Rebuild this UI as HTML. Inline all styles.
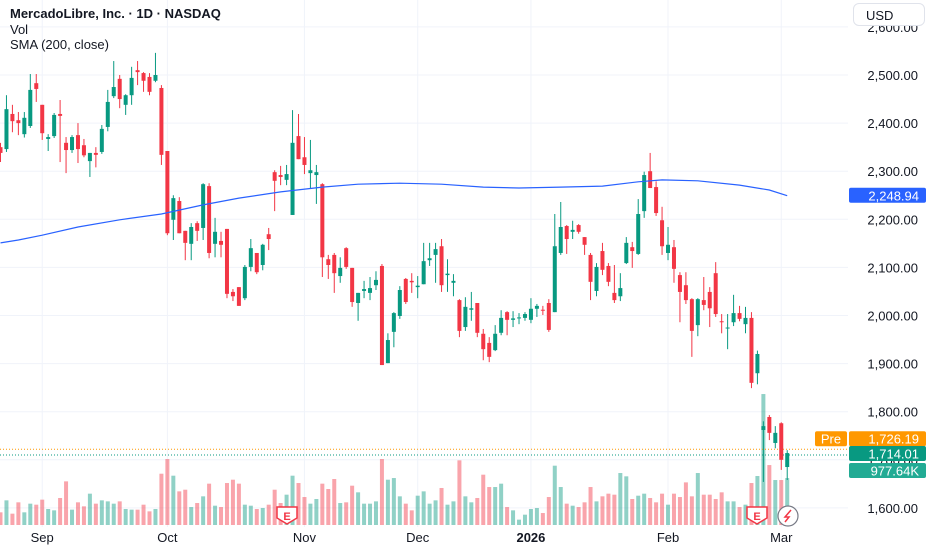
<!DOCTYPE html>
<html><head><meta charset="utf-8">
<style>
html,body{margin:0;padding:0;background:#fff;width:932px;height:550px;overflow:hidden;font-family:"Liberation Sans",sans-serif;}
#wrap{position:relative;width:932px;height:550px;}
svg{position:absolute;left:0;top:0;}
.leg{position:absolute;left:10px;font-size:13px;color:#131722;}
#usd{position:absolute;left:853px;top:3px;width:72px;height:23px;border:1px solid #e0e3eb;border-radius:6px;background:#fff;font-size:13px;color:#131722;line-height:23px;text-indent:12px;box-sizing:border-box;}
</style></head><body>
<div id="wrap">
<svg id="chart" width="932" height="550"></svg>
<div class="leg" style="top:6px;font-weight:bold;">MercadoLibre, Inc. · 1D · NASDAQ</div>
<div class="leg" style="top:22px;">Vol</div>
<div class="leg" style="top:37px;">SMA (200, close)</div>
<div id="usd">USD</div>
</div>
<script>
const opens=[2350,2346,2419,2406,2377,2394,2483,2438,2367,2373,2419,2359,2344,2375,2354,2321,2338,2340,2392,2456,2492,2438,2458,2510,2504,2496,2488,2473,2342,2199,2238,2176,2149,2192,2182,2269,2149,2155,2180,2049,2059,2036,2101,2130,2105,2169,2298,2292,2282,2209,2373,2329,2296,2292,2273,2117,2126,2082,2140,2099,2026,2051,2047,2063,2103,1901,1966,1999,2076,2072,2059,2065,2115,2126,2144,2084,2068,2032,1976,2012,2026,1962,1943,1928,1964,2007,1991,1994,1995,1991,2014,2012,2026,2007,2130,2186,2174,2188,2163,2126,2051,2134,2103,2047,2040,2109,2142,2128,2217,2300,2267,2198,2130,2142,2084,2063,2034,1980,2032,2049,2088,1988,1973,1986,2005,1982,1995,1880,1762,1789,1735,1776,1685];
const closes=[2338,2429,2404,2400,2411,2469,2471,2379,2371,2417,2415,2344,2371,2346,2333,2338,2334,2388,2444,2475,2450,2458,2494,2506,2488,2465,2500,2334,2171,2244,2171,2151,2184,2176,2273,2130,2174,2147,2045,2040,2020,2101,2140,2090,2147,2159,2280,2288,2294,2359,2325,2313,2302,2298,2121,2105,2088,2099,2101,2028,2047,2055,2057,2074,1897,1949,2005,2053,2028,2069,2062,2113,2119,2138,2063,2087,2072,1968,2018,2015,1964,1930,1914,1962,1995,1991,1994,1996,2003,2014,2020,2010,1970,2144,2184,2159,2178,2174,2147,2070,2101,2095,2070,2032,2057,2151,2134,2211,2292,2265,2213,2144,2147,2097,2049,2032,1968,2034,2022,2015,2003,1986,1975,2005,1993,1995,1860,1920,1770,1756,1756,1700,1714];
const highs=[2359,2458,2438,2423,2423,2502,2502,2438,2377,2421,2448,2371,2375,2400,2367,2338,2350,2396,2469,2529,2500,2460,2517,2529,2506,2504,2546,2479,2342,2250,2246,2176,2192,2196,2275,2275,2203,2174,2180,2055,2059,2105,2159,2130,2149,2182,2302,2311,2313,2427,2419,2371,2365,2313,2275,2126,2130,2121,2142,2099,2047,2072,2080,2092,2107,1963,2007,2061,2078,2088,2082,2151,2151,2151,2159,2117,2086,2034,2038,2049,2026,1972,1955,1980,2011,2009,2009,2005,2007,2036,2024,2020,2034,2211,2236,2188,2197,2190,2163,2130,2109,2151,2109,2105,2088,2163,2153,2242,2299,2338,2279,2226,2184,2157,2090,2090,2036,2036,2080,2059,2111,2003,2003,2043,2020,2018,2007,1927,1780,1793,1770,1778,1720];
const lows=[2319,2340,2381,2375,2370,2390,2444,2365,2342,2369,2319,2296,2338,2317,2329,2288,2308,2336,2383,2452,2431,2417,2438,2479,2465,2458,2485,2313,2167,2157,2171,2115,2115,2155,2157,2119,2121,2121,2036,2030,2020,2032,2092,2086,2094,2136,2217,2271,2271,2209,2325,2294,2265,2232,2080,2076,2047,2068,2097,2018,1989,2036,2032,2053,1897,1901,1934,1993,2024,2047,2036,2065,2103,2068,2049,2049,2040,1955,1968,1989,1955,1907,1903,1926,1959,1959,1976,1982,1989,1984,1997,2001,1966,2007,2126,2128,2159,2170,2126,2032,2040,2084,2061,2026,2030,2107,2099,2126,2203,2265,2207,2126,2115,2068,1986,2024,1914,1957,2011,1976,1997,1963,1930,1978,1988,1963,1849,1857,1654,1741,1724,1679,1658];
const volumes=[275,535,246,492,275,463,441,550,347,318,586,947,333,492,405,680,463,535,513,463,513,347,333,333,441,296,347,1113,1432,1070,730,766,390,477,622,897,419,390,911,983,897,441,419,347,369,441,766,477,658,1070,911,607,463,564,897,781,998,477,492,853,709,463,463,513,1432,983,1019,622,463,318,636,730,463,535,803,441,513,1403,622,492,586,1092,824,824,897,390,318,116,224,347,369,260,607,1287,824,463,419,390,492,824,513,622,680,658,1128,1056,564,636,680,586,492,680,441,680,607,925,622,1128,658,658,564,709,513,513,390,441,911,1063,2842,1301,976,976,1019];
const smaIdx=[0,3,7,13,20,27,34,40,47,54,60,67,74,81,87,94,101,107,111,117,124,129,132];
const smaVal=[2151,2157,2167,2184,2199,2211,2230,2244,2257,2267,2273,2275,2273,2267,2265,2267,2269,2278,2282,2280,2271,2261,2249];
const priceTicks=[2600,2500,2400,2300,2200,2100,2000,1900,1800,1700,1600];
const monthLabels=["Sep","Oct","Nov","Dec","2026","Feb","Mar"];
const monthIdx=[7,28,51,70,89,112,131];
const lastPrice=1714.01, prePrice=1726.19, smaLast=2248.94, lastVolume="977.64K";

const NS="http://www.w3.org/2000/svg";
const svg=document.getElementById('chart');
const xOf=i=>i*5.96+0.5;
const yOf=p=>75+(2500-p)*0.481;
const volY=v=>525-v/21.7;
function mk(tag,attrs,parent){const e=document.createElementNS(NS,tag);for(const k in attrs)e.setAttribute(k,attrs[k]);(parent||svg).appendChild(e);return e;}

priceTicks.forEach(p=>{const g=mk('line',{x1:0,x2:848,y1:yOf(p),y2:yOf(p),stroke:'#f0f3fa','stroke-width':1});

});
monthIdx.forEach(i=>{const g=mk('line',{x1:xOf(i),x2:xOf(i),y1:0,y2:527,stroke:'#f0f3fa','stroke-width':1});

});

volumes.forEach((v,i)=>{const up=closes[i]>=opens[i];
const r=mk('rect',{x:xOf(i)-2,y:volY(v),width:4,height:525-volY(v),fill:up?'rgba(8,153,129,0.45)':'rgba(242,54,69,0.45)'});

});

const preLineY=yOf(prePrice)+2;
const pl=mk('line',{x1:0,x2:848,y1:preLineY,y2:preLineY,stroke:'#ff9800','stroke-dasharray':'1,2'});


const ll=mk('line',{x1:0,x2:848,y1:yOf(lastPrice)+2,y2:yOf(lastPrice)+2,stroke:'#089981','stroke-dasharray':'1,2'});



opens.forEach((o,i)=>{const c=closes[i],up=c>=o,col=up?'#089981':'#f23645',x=xOf(i);
const w=mk('line',{x1:x,x2:x,y1:yOf(highs[i]),y2:yOf(lows[i]),stroke:col,'stroke-width':1});


const top=yOf(Math.max(o,c)),bot=yOf(Math.min(o,c));
const b=mk('rect',{x:x-2,y:top,width:4,height:Math.max(1,bot-top),fill:col});

});

let d='';smaIdx.forEach((i,k)=>{d+=(k?'L':'M')+xOf(i).toFixed(1)+','+yOf(smaVal[k]).toFixed(1);});
const sma=mk('path',{d:d,fill:'none',stroke:'#2962ff','stroke-width':1.2});



priceTicks.forEach(p=>{const t=mk('text',{x:918,y:yOf(p)+5,'text-anchor':'end','font-size':13,fill:'#131722','font-family':'Liberation Sans, sans-serif'});t.textContent=p.toLocaleString('en-US',{minimumFractionDigits:2});

});
monthLabels.forEach((m,k)=>{const t=mk('text',{x:xOf(monthIdx[k]),y:542,'text-anchor':'middle','font-size':13,fill:'#131722','font-weight':m==='2026'?'bold':'normal','font-family':'Liberation Sans, sans-serif'});t.textContent=m;

});

function tag(y,bg,txt,name,x,w){const g=mk('g',{});
mk('rect',{x:x,y:y-8,width:w,height:15,rx:2,fill:bg},g);
const t=mk('text',{x:x+w-7,y:y+4.5,'text-anchor':'end','font-size':13,fill:'#fff','font-family':'Liberation Sans, sans-serif'},g);t.textContent=txt;return g;}
tag(yOf(smaLast),'#2962ff',smaLast.toLocaleString('en-US',{minimumFractionDigits:2}),'sma-value-label',849,77);
const preTagY=yOf(prePrice)-8;
tag(preTagY,'#ff9800',prePrice.toLocaleString('en-US',{minimumFractionDigits:2}),'premarket-price-label',849,77);
const pre=mk('g',{});
mk('rect',{x:815,y:preTagY-8,width:32,height:15,rx:2,fill:'#ff9800'},pre);
const pt=mk('text',{x:831,y:preTagY+4.5,'text-anchor':'middle','font-size':13,fill:'#fff','font-family':'Liberation Sans, sans-serif'},pre);pt.textContent='Pre';
tag(yOf(lastPrice)+1,'#089981',lastPrice.toLocaleString('en-US',{minimumFractionDigits:2}),'last-price-label',849,77);
tag(471,'#22ab94',lastVolume,'last-volume-label',849,77);

function earn(x,name){const g=mk('g',{});
mk('path',{d:`M${x-10},507 h20 v11 l-10,6 l-10,-6 z`,fill:'#fff',stroke:'#f23645','stroke-width':1.5},g);
const t=mk('text',{x:x,y:520,'text-anchor':'middle','font-size':11,'font-weight':'bold',fill:'#f23645','font-family':'Liberation Sans, sans-serif'},g);t.textContent='E';}
earn(287,'earnings-marker-nov');earn(757,'earnings-marker-feb');
const lg=mk('g',{});
mk('circle',{cx:788,cy:516,r:10,fill:'#fff',stroke:'#787b86','stroke-width':1.2},lg);
mk('path',{d:'M791,510 L785,517 L789,517 L785,522',fill:'none',stroke:'#f23645','stroke-width':1.5},lg);
</script>
</body></html>
